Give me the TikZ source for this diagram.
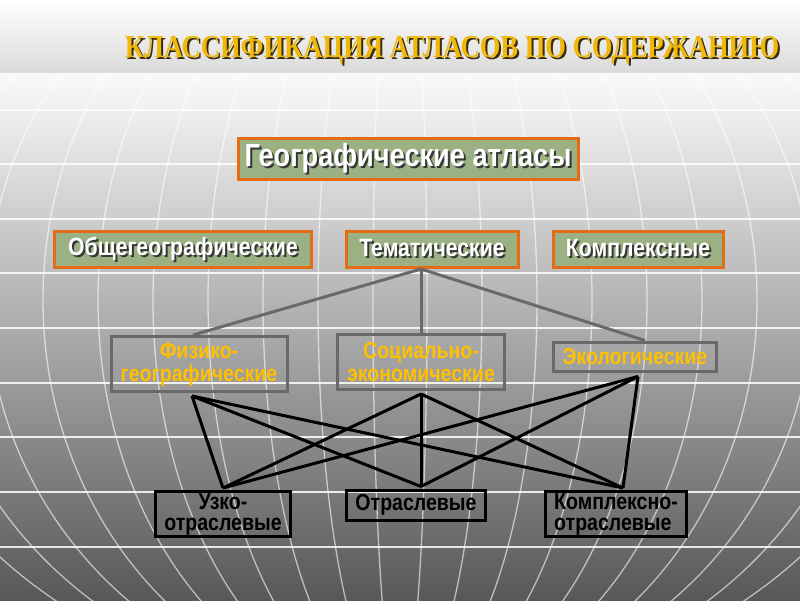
\documentclass[tikz,border=0pt]{standalone}
\usepackage{fontspec}
\setmainfont{Liberation Sans}[FakeStretch=0.85]
\newfontfamily\titlefont{Liberation Serif}[FakeStretch=0.83]

\definecolor{sage}{RGB}{155,176,131}
\definecolor{edgeorange}{RGB}{228,108,20}
\definecolor{edgegrey}{RGB}{105,105,105}
\definecolor{atlasgold}{RGB}{255,192,0}
\definecolor{titlegold}{RGB}{240,184,10}
\definecolor{titleshade}{RGB}{60,45,10}
\definecolor{textshade}{RGB}{55,55,55}
\definecolor{bandgrey}{RGB}{218,218,218}
\definecolor{bgtop}{RGB}{250,250,250}
\definecolor{bgbottom}{RGB}{88,88,88}

% text with a drop shadow (one line only)
\newcommand\shadowed[2]{\makebox[0pt][l]{\hspace{2pt}\raisebox{-2pt}{\textcolor{#1}{#2}}}#2}

\begin{document}
\begin{tikzpicture}[x=1pt, y=-1pt,
  greenbox/.style={draw=edgeorange, line width=3pt, fill=sage, text=white,
    font=\bfseries\fontsize{25}{28}\selectfont, inner sep=0pt},
  greybox/.style={draw=edgegrey, line width=3pt, text=atlasgold,
    font=\bfseries\fontsize{23}{23}\selectfont, align=center, inner sep=0pt},
  blackbox/.style={draw=black, line width=3pt, text=black,
    font=\bfseries\fontsize{23}{21}\selectfont, align=center, inner sep=0pt},
  greyline/.style={draw=edgegrey, line width=3pt},
  blackline/.style={draw=black, line width=3pt},
  gridline/.style={draw=white, line width=1.3pt, opacity=0.85},
  meridian/.style={draw=white, line width=1.3pt, opacity=0.6}]
\useasboundingbox (0,0) rectangle (800,600);
% Background
\shade [top color=white, bottom color=bandgrey] (0,0) rectangle (800,73);
\shade [top color=bgtop, bottom color=bgbottom] (0,73) rectangle (800,600);
\begin{scope}
  \clip (0,73) rectangle (800,600);
  \foreach \yy in {110,164,219,273,328,383,437,492,547}
    \draw [gridline] (0,\yy) -- (800,\yy);
  \foreach \a in {27,82,...,522}
    \draw [meridian] (400,300) ellipse [x radius=\a, y radius=400];
\end{scope}
% Title
\node [anchor=base, text=titlegold, font=\titlefont\bfseries\fontsize{32}{36}\selectfont] (title) at (452,57)
  {\shadowed{titleshade}{КЛАССИФИКАЦИЯ АТЛАСОВ ПО СОДЕРЖАНИЮ}};
% Top boxes
\node [greenbox, minimum width=340, minimum height=41, font=\bfseries\fontsize{32}{34}\selectfont] (geo) at (408,159)
  {\shadowed{textshade}{Географические атласы}};
\node [greenbox, minimum width=257, minimum height=36] (obsh) at (183,249.5) {\shadowed{textshade}{Общегеографические}};
\node [greenbox, minimum width=172, minimum height=36] (tem) at (432,249.5) {\shadowed{textshade}{Тематические}};
\node [greenbox, minimum width=170, minimum height=36] (kompl) at (638,249.5) {\shadowed{textshade}{Комплексные}};
% Thematic atlases
\node [greybox, minimum width=176, minimum height=55] (fiz) at (199,364) {Физико-\\географические};
\node [greybox, minimum width=167, minimum height=55] (soc) at (421,362) {Социально-\\экономические};
\node [greybox, minimum width=163, minimum height=29] (eco) at (635,356.5) {Экологические};
% Branch atlases
\node [blackbox, minimum width=135, minimum height=45] (uzk) at (223,514) {Узко-\\отраслевые};
\node [blackbox, minimum width=139, minimum height=30] (otr) at (416,505) {Отраслевые};
\node [blackbox, minimum width=141, minimum height=45, align=left] (kot) at (616,514) {Комплексно-\\отраслевые};
% Grey connectors
\draw [greyline] (tem.south -| soc.north) -- ([xshift=-6pt]fiz.north);
\draw [greyline] (tem.south -| soc.north) -- (soc.north);
\draw [greyline] (tem.south -| soc.north) -- ([xshift=10pt]eco.north);
% Black connectors
\coordinate (fizb) at ([xshift=-7pt,yshift=-3pt]fiz.south);
\coordinate (socb) at ([yshift=-3pt]soc.south);
\coordinate (ecob) at ([xshift=3pt,yshift=-4pt]eco.south);
\coordinate (uzkt) at ([yshift=2pt]uzk.north);
\coordinate (otrt) at ([xshift=5pt,yshift=2pt]otr.north);
\coordinate (kott) at ([xshift=7pt,yshift=2pt]kot.north);
\foreach \from in {fizb,socb,ecob}
  \foreach \to in {uzkt,otrt,kott}
    \draw [blackline] (\from) -- (\to);
\end{tikzpicture}
\end{document}
